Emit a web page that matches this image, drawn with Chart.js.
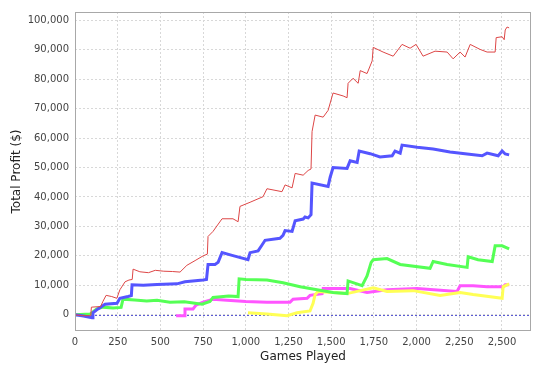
<!DOCTYPE html>
<html lang="en">
<head>
    <meta charset="UTF-8">
    <title>Total Profit vs Games Played</title>
    <style>
        body {
            margin: 0;
            background-color: #ffffff;
        }
        #profitChart {
            display: block;
        }
    </style>
    <script src="https://cdn.jsdelivr.net/npm/chart.js"></script>
</head>
<body>

<canvas id="profitChart" width="539" height="372"></canvas>

<script>
    // values (games played -> total profit in $)
    const redGames = [0, 40, 92, 96, 150, 164, 182, 215, 245, 263, 293, 316, 335, 340, 380, 430, 470, 520, 570, 615, 655, 703, 750, 775, 779, 808, 861, 925, 955, 966, 1025, 1101, 1124, 1212, 1230, 1271, 1289, 1336, 1365, 1382, 1388, 1406, 1453, 1482, 1511, 1570, 1593, 1599, 1628, 1658, 1670, 1710, 1740, 1746, 1804, 1863, 1915, 1962, 1997, 2038, 2108, 2179, 2214, 2255, 2284, 2314, 2372, 2413, 2460, 2466, 2501, 2513, 2519, 2530, 2542];
    const redProfit = [0, -300, -300, 2600, 2800, 4600, 6600, 6200, 5600, 8500, 11200, 11800, 12000, 15500, 14600, 14300, 15100, 14800, 14700, 14500, 16800, 18400, 20000, 20600, 26600, 28300, 32600, 32600, 31600, 36800, 38200, 40100, 42800, 41800, 44100, 43100, 48000, 47400, 49000, 49500, 62200, 67800, 67100, 69400, 75300, 74300, 73700, 78600, 80300, 78600, 82900, 81900, 86200, 90800, 89200, 87800, 91800, 90500, 91800, 87800, 89500, 89200, 86900, 89200, 87500, 91800, 90100, 89200, 89200, 94100, 94400, 93400, 96700, 97700, 97400];

    const blueGames = [0, 50, 100, 105, 135, 176, 246, 263, 310, 330, 334, 400, 480, 597, 644, 750, 770, 779, 820, 838, 861, 925, 1013, 1025, 1072, 1095, 1113, 1200, 1218, 1230, 1271, 1289, 1336, 1347, 1365, 1382, 1388, 1482, 1494, 1511, 1593, 1611, 1652, 1664, 1728, 1786, 1857, 1874, 1904, 1915, 2003, 2097, 2196, 2296, 2384, 2413, 2478, 2501, 2519, 2542];
    const blueProfit = [0, -400, -1000, 700, 2000, 3600, 3900, 5600, 6200, 6500, 10200, 10000, 10300, 10500, 11200, 11800, 12000, 17100, 17100, 17800, 21100, 20100, 18700, 21100, 21700, 23700, 25300, 26000, 27000, 28600, 28300, 31900, 32500, 33200, 32900, 34000, 44700, 43600, 46700, 50000, 49700, 52300, 51700, 55600, 54700, 53600, 54000, 55600, 54900, 57600, 56900, 56300, 55300, 54600, 54000, 54900, 54000, 55600, 54600, 54300];

    const greenGames = [0, 90, 128, 164, 223, 270, 281, 350, 420, 480, 556, 640, 744, 790, 808, 900, 955, 961, 1000, 1124, 1218, 1318, 1417, 1511, 1593, 1599, 1681, 1710, 1734, 1746, 1827, 1904, 2079, 2097, 2179, 2296, 2302, 2360, 2443, 2460, 2501, 2542];
    const greenProfit = [0, 300, 2000, 2600, 2300, 2500, 5300, 5000, 4700, 4900, 4300, 4400, 3600, 4500, 5900, 6400, 6200, 12200, 12000, 11800, 10900, 9500, 8500, 7600, 7200, 11500, 9900, 13200, 17800, 18700, 19100, 17100, 15800, 18100, 17100, 16100, 19700, 18700, 18100, 23400, 23400, 22400];

    const yellowGames = [1013, 1124, 1242, 1300, 1376, 1394, 1406, 1423, 1593, 1746, 1827, 1980, 2138, 2255, 2331, 2501, 2507, 2542];
    const yellowProfit = [700, 300, -300, 700, 1300, 3900, 6900, 7900, 7200, 9200, 7900, 8200, 6600, 7600, 6900, 5600, 9500, 10500];

    const magentaGames = [592, 640, 644, 691, 709, 750, 808, 890, 1000, 1124, 1259, 1277, 1359, 1376, 1447, 1453, 1611, 1710, 1827, 2003, 2237, 2255, 2331, 2413, 2507, 2519, 2542];
    const magentaProfit = [-300, -300, 2000, 2000, 3300, 4300, 5300, 4900, 4500, 4300, 4300, 5300, 5600, 6600, 7200, 8900, 8900, 7600, 8500, 8900, 7900, 9900, 9900, 9500, 9500, 10200, 10200];

    // tick positions shown on the axes
    const xTicks = [0, 250, 500, 750, 1000, 1250, 1500, 1750, 2000, 2250, 2500];
    const yTicks = [0, 10000, 20000, 30000, 40000, 50000, 60000, 70000, 80000, 90000, 100000];

    function toPoints(games, profit) {
        return games.map((g, i) => ({ x: g, y: profit[i] }));
    }

    // grey outline round the plot plus the dashed zero marker
    const plotFrame = {
        id: 'plotFrame',
        beforeDatasetsDraw(chart) {
            const { ctx, chartArea, scales } = chart;
            const y0 = Math.round(scales.y.getPixelForValue(0)) + 0.5;
            ctx.save();
            ctx.strokeStyle = '#5c5cd6';
            ctx.lineWidth = 1;
            ctx.setLineDash([2, 2]);
            ctx.beginPath();
            ctx.moveTo(chartArea.left, y0);
            ctx.lineTo(chartArea.right, y0);
            ctx.stroke();
            ctx.restore();
        },
        afterDraw(chart) {
            const { ctx, chartArea } = chart;
            ctx.save();
            ctx.strokeStyle = '#a8a8a8';
            ctx.lineWidth = 1;
            ctx.strokeRect(chartArea.left + 0.5, chartArea.top + 0.5,
                chartArea.right - chartArea.left - 1, chartArea.bottom - chartArea.top - 1);
            ctx.restore();
        }
    };

    const gridStyle = {
        color: '#d8d8d8',
        lineWidth: 1,
        drawTicks: false
    };

    const ctx = document.getElementById('profitChart').getContext('2d');
    const profitChart = new Chart(ctx, {
        type: 'line',
        data: {
            datasets: [
                { label: 'Red', data: toPoints(redGames, redProfit), borderColor: '#dd4646', borderWidth: 1 },
                { label: 'Blue', data: toPoints(blueGames, blueProfit), borderColor: '#5555ff', borderWidth: 3 },
                { label: 'Green', data: toPoints(greenGames, greenProfit), borderColor: '#55ff55', borderWidth: 3 },
                { label: 'Yellow', data: toPoints(yellowGames, yellowProfit), borderColor: '#ffff55', borderWidth: 3 },
                { label: 'Magenta', data: toPoints(magentaGames, magentaProfit), borderColor: '#ff55ff', borderWidth: 3 }
            ]
        },
        options: {
            responsive: false,
            animation: false,
            devicePixelRatio: 1,
            layout: { padding: { top: 3, right: 8, left: 0, bottom: 0 } },
            elements: {
                point: { radius: 0 },
                line: { tension: 0, fill: false, borderJoinStyle: 'miter' }
            },
            plugins: {
                legend: { display: false },
                tooltip: { enabled: false }
            },
            scales: {
                x: {
                    type: 'linear',
                    min: 0,
                    max: 2670,
                    grid: gridStyle,
                    border: { display: false, dash: [2, 2] },
                    afterBuildTicks: scale => { scale.ticks = xTicks.map(v => ({ value: v })); },
                    ticks: {
                        maxRotation: 0,
                        autoSkip: false,
                        padding: 5,
                        color: '#444444',
                        font: { family: 'DejaVu Sans', size: 10 },
                        callback: v => v.toLocaleString('en-US')
                    },
                    title: {
                        display: true,
                        text: 'Games Played',
                        color: '#222222',
                        font: { family: 'DejaVu Sans', size: 12 },
                        padding: { top: 0, bottom: 8 }
                    },
                    afterFit: scale => { scale.height = 41; }
                },
                y: {
                    type: 'linear',
                    min: -5500,
                    max: 102800,
                    grid: gridStyle,
                    border: { display: false, dash: [2, 2] },
                    afterBuildTicks: scale => { scale.ticks = yTicks.map(v => ({ value: v })); },
                    ticks: {
                        autoSkip: false,
                        padding: 6,
                        color: '#444444',
                        font: { family: 'DejaVu Sans', size: 10 },
                        callback: v => v.toLocaleString('en-US')
                    },
                    title: {
                        display: true,
                        text: 'Total Profit ($)',
                        color: '#222222',
                        font: { family: 'DejaVu Sans', size: 12 },
                        padding: { top: 10, bottom: 0 }
                    },
                    afterFit: scale => { scale.width = 75; }
                }
            }
        },
        plugins: [plotFrame]
    });
</script>

</body>
</html>
